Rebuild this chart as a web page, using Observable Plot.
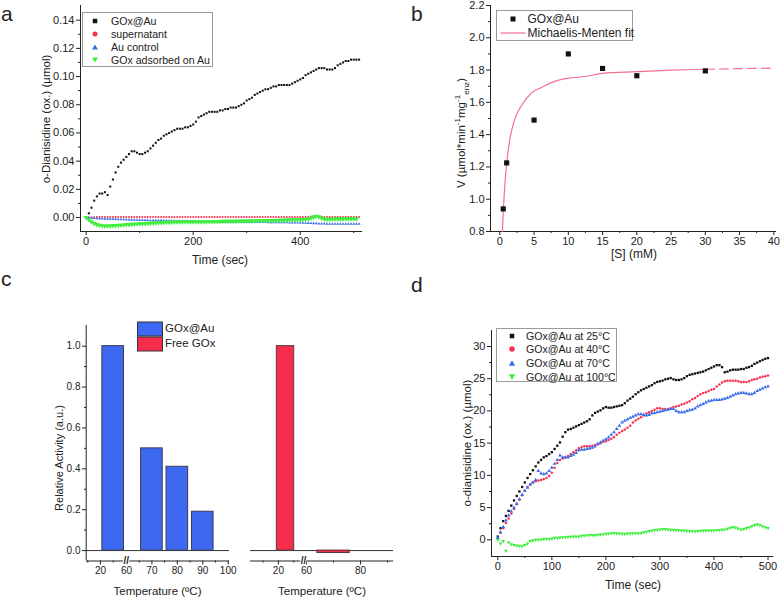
<!DOCTYPE html>
<html><head><meta charset="utf-8">
<script src="https://cdn.jsdelivr.net/npm/d3@7"></script>
<script src="https://cdn.jsdelivr.net/npm/@observablehq/plot@0.6"></script>
<style>
body{margin:0;background:#fff}
#fig{position:relative;width:780px;height:599px;overflow:hidden;background:#fff;font-family:"Liberation Sans",Arial,sans-serif;color:#222}
.abs{position:absolute}
.lbl{position:absolute;white-space:nowrap;line-height:1}
.letter{position:absolute;font-family:"Liberation Sans",Arial,sans-serif;font-size:21px;line-height:21px;color:#222}
.legend{position:absolute;border:1px solid #9a9a9a;background:#fff;box-sizing:border-box}
sup,sub{font-size:70%;line-height:0}
</style></head>
<body><div id="fig"></div>
<script>
// ================= DATA =================
// Panel a: o-Dianisidine (ox.) (µmol) vs time, one reading every 5 s
const timeA = d3.range(0, 511, 5);
const aGOxAu = [
 0.000,0.003,0.007,0.012,0.015,0.017,0.017,0.018,0.016,0.022,
 0.027,0.032,0.036,0.039,0.041,0.043,0.045,0.047,0.047,0.046,
 0.045,0.045,0.046,0.047,0.049,0.051,0.053,0.055,0.056,0.058,
 0.059,0.060,0.061,0.062,0.063,0.063,0.063,0.064,0.064,0.065,
 0.066,0.068,0.071,0.072,0.073,0.074,0.075,0.075,0.075,0.075,
 0.076,0.076,0.077,0.077,0.078,0.078,0.078,0.079,0.080,0.081,
 0.083,0.084,0.085,0.087,0.088,0.089,0.090,0.091,0.091,0.092,
 0.093,0.093,0.094,0.094,0.094,0.094,0.094,0.095,0.096,0.097,
 0.098,0.099,0.101,0.102,0.103,0.104,0.105,0.106,0.106,0.106,
 0.105,0.105,0.105,0.106,0.108,0.109,0.110,0.111,0.111,0.112,
 0.112,0.112,0.112];
const aSupernatant = [
 0.0000,0.0001,0.0002,0.0002,0.0003,0.0003,0.0003,0.0003,0.0003,0.0003,
 0.0003,0.0003,0.0003,0.0003,0.0003,0.0003,0.0004,0.0004,0.0004,0.0004,
 0.0004,0.0004,0.0004,0.0004,0.0004,0.0004,0.0004,0.0004,0.0004,0.0004,
 0.0004,0.0004,0.0004,0.0004,0.0004,0.0004,0.0004,0.0004,0.0004,0.0004,
 0.0004,0.0004,0.0004,0.0004,0.0004,0.0004,0.0004,0.0004,0.0004,0.0004,
 0.0004,0.0004,0.0004,0.0004,0.0004,0.0004,0.0004,0.0004,0.0004,0.0004,
 0.0004,0.0004,0.0004,0.0004,0.0004,0.0004,0.0004,0.0004,0.0004,0.0004,
 0.0004,0.0004,0.0004,0.0004,0.0004,0.0004,0.0004,0.0004,0.0004,0.0004,
 0.0004,0.0004,0.0004,0.0004,0.0004,0.0004,0.0004,0.0004,0.0004,0.0004,
 0.0004,0.0004,0.0004,0.0004,0.0004,0.0004,0.0004,0.0004,0.0004,0.0004,
 0.0004,0.0004,0.0004];
const aAuControl = [
 0.0000,-0.0002,-0.0004,-0.0005,-0.0006,-0.0007,-0.0008,-0.0009,-0.0010,-0.0010,
 -0.0011,-0.0012,-0.0013,-0.0013,-0.0014,-0.0015,-0.0015,-0.0016,-0.0016,-0.0017,
 -0.0018,-0.0018,-0.0019,-0.0019,-0.0020,-0.0020,-0.0021,-0.0021,-0.0021,-0.0022,
 -0.0022,-0.0023,-0.0023,-0.0024,-0.0024,-0.0025,-0.0025,-0.0025,-0.0026,-0.0026,
 -0.0026,-0.0027,-0.0027,-0.0027,-0.0028,-0.0028,-0.0028,-0.0029,-0.0029,-0.0029,
 -0.0029,-0.0030,-0.0030,-0.0030,-0.0030,-0.0031,-0.0031,-0.0031,-0.0031,-0.0032,
 -0.0032,-0.0032,-0.0032,-0.0033,-0.0033,-0.0033,-0.0033,-0.0033,-0.0034,-0.0034,
 -0.0034,-0.0034,-0.0035,-0.0035,-0.0035,-0.0035,-0.0036,-0.0036,-0.0036,-0.0037,
 -0.0037,-0.0038,-0.0038,-0.0039,-0.0040,-0.0041,-0.0042,-0.0043,-0.0044,-0.0044,
 -0.0045,-0.0045,-0.0045,-0.0045,-0.0045,-0.0045,-0.0045,-0.0045,-0.0045,-0.0045,
 -0.0045,-0.0045,-0.0045];
const aGOxAdsorbed = [
 0.0000,-0.0015,-0.0030,-0.0042,-0.0050,-0.0055,-0.0058,-0.0059,-0.0059,-0.0058,
 -0.0057,-0.0056,-0.0055,-0.0054,-0.0052,-0.0050,-0.0049,-0.0048,-0.0046,-0.0045,
 -0.0044,-0.0043,-0.0042,-0.0041,-0.0040,-0.0039,-0.0038,-0.0037,-0.0036,-0.0035,
 -0.0034,-0.0033,-0.0033,-0.0032,-0.0032,-0.0032,-0.0031,-0.0031,-0.0031,-0.0031,
 -0.0031,-0.0031,-0.0031,-0.0030,-0.0030,-0.0030,-0.0029,-0.0029,-0.0029,-0.0028,
 -0.0028,-0.0027,-0.0027,-0.0027,-0.0026,-0.0026,-0.0026,-0.0025,-0.0025,-0.0025,
 -0.0024,-0.0024,-0.0023,-0.0023,-0.0022,-0.0022,-0.0022,-0.0021,-0.0021,-0.0021,
 -0.0020,-0.0020,-0.0019,-0.0019,-0.0018,-0.0018,-0.0017,-0.0016,-0.0015,-0.0015,
 -0.0014,-0.0013,-0.0012,-0.0011,-0.0005,0.0005,0.0010,0.0006,-0.0004,-0.0010,
 -0.0012,-0.0012,-0.0011,-0.0011,-0.0010,-0.0010,-0.0010,-0.0009,-0.0009,-0.0009,
 -0.0009,-0.0009];
const aSeriesNames = ["GOx@Au", "supernatant", "Au control", "GOx adsorbed on Au"];
const aYTicks = [0, 0.02, 0.04, 0.06, 0.08, 0.10, 0.12, 0.14];
const aYMinor = [0.01, 0.03, 0.05, 0.07, 0.09, 0.11, 0.13];
const aXTicks = [0, 200, 400];
const aXMinor = [100, 300, 500];

// Panel b: initial rate vs substrate concentration
const bSubstrate = [0.5, 1, 5, 10, 15, 20, 30];
const bRate = [0.94, 1.225, 1.49, 1.90, 1.81, 1.765, 1.795];
const bFitS = [0.39, 0.5, 0.6, 0.75, 1, 1.25, 1.5, 2, 2.5, 3, 4, 5, 6, 8, 10, 12.5, 15, 20, 25, 30, 35, 40];
const bFitV = [0.80, 0.92, 1.00, 1.10, 1.22, 1.31, 1.38, 1.47, 1.53, 1.57, 1.63, 1.67, 1.69, 1.73, 1.75, 1.76, 1.78, 1.79, 1.80, 1.805, 1.809, 1.812];
const bSeriesNames = ["GOx@Au", "Michaelis-Menten fit"];
const bXTicks = [0, 5, 10, 15, 20, 25, 30, 35, 40];
const bXMinor = [2.5, 7.5, 12.5, 17.5, 22.5, 27.5, 32.5, 37.5];
const bYTicks = [0.8, 1.0, 1.2, 1.4, 1.6, 1.8, 2.0, 2.2];
const bYMinor = [0.9, 1.1, 1.3, 1.5, 1.7, 1.9, 2.1];

// Panel c: relative activity after heating
const cTempAu = [25, 70, 80, 90];
const cActAu = [1.0, 0.50, 0.41, 0.19];
const cTempFree = [25, 70];
const cActFree = [1.0, -0.012];
const cSeriesNames = ["GOx@Au", "Free GOx"];
const cYTicks = [0, 0.2, 0.4, 0.6, 0.8, 1.0];
const cYMinor = [0.1, 0.3, 0.5, 0.7, 0.9];
const cLeftTicks = [20, 60, 70, 80, 90, 100];
const cLeftMinor = [15, 25, 65, 75, 85, 95];
const cRightTicks = [20, 60, 80];
const cRightMinor = [10, 30, 70, 90];

// Panel d: o-dianisidine (ox.) (µmol) vs time, one reading every 5 s
const timeD = d3.range(0, 501, 5);
const d25 = [
 0.5,1.8,2.9,3.7,4.5,5.3,6.1,6.8,7.5,8.2,
 8.9,9.6,10.2,10.8,11.4,12.0,12.4,12.8,13.0,13.3,
 13.6,14.1,14.6,15.1,16.0,16.7,17.1,17.2,17.4,17.6,
 17.8,18.0,18.2,18.4,18.7,19.3,19.7,19.9,20.1,20.4,
 20.6,20.5,20.5,20.6,20.7,20.8,20.9,21.2,21.6,21.9,
 22.2,22.6,22.9,23.2,23.4,23.6,23.8,24.0,24.3,24.5,
 24.6,24.7,24.9,25.0,25.1,24.9,24.8,24.8,24.9,25.1,
 25.4,25.6,25.7,25.8,25.9,26.0,26.1,26.3,26.5,26.7,
 26.9,27.1,27.1,26.8,26.0,26.1,26.3,26.4,26.4,26.4,
 26.5,26.5,26.7,26.8,27.0,27.3,27.5,27.7,27.9,28.1,
 28.2];
const d40 = [
 0.2,1.1,1.8,2.6,3.3,4.1,4.8,5.5,6.2,6.9,
 7.6,8.2,8.6,8.9,9.1,9.2,9.3,9.4,9.6,9.9,
 10.4,11.2,11.9,12.4,12.6,12.8,13.0,13.3,13.6,13.9,
 14.2,14.4,14.5,14.5,14.5,14.6,14.7,14.8,15.0,15.2,
 15.3,15.5,15.7,15.9,16.3,16.6,16.9,17.1,17.4,17.7,
 18.2,18.5,18.8,19.0,19.3,19.6,19.8,20.0,20.2,20.4,
 20.4,20.3,20.3,20.3,20.4,20.6,20.7,20.8,21.0,21.1,
 21.3,21.5,21.8,22.0,22.3,22.6,22.8,22.9,23.1,23.3,
 23.4,23.8,24.1,24.4,24.6,24.7,24.7,24.7,24.7,24.6,
 24.5,24.5,24.5,24.6,24.8,24.9,25.0,25.2,25.3,25.4,
 25.5];
const d70 = [
 0.3,1.2,2.0,3.0,3.8,4.4,5.0,5.6,6.3,7.0,
 7.6,8.1,8.6,8.9,9.3,10.7,10.3,10.2,10.3,10.7,
 11.2,11.8,12.4,13.1,12.8,12.8,12.8,13.0,13.2,13.5,
 13.9,14.0,14.0,14.1,14.2,14.3,14.5,14.9,15.1,15.4,
 15.6,15.9,16.3,16.7,17.2,17.7,18.2,18.5,18.7,18.9,
 19.1,19.3,19.5,19.5,19.4,19.3,19.4,19.6,19.7,19.8,
 19.9,20.0,20.1,20.2,20.3,20.3,20.0,19.8,19.8,19.8,
 20.0,20.1,20.2,20.4,20.7,20.9,21.1,21.3,21.5,21.6,
 21.7,21.7,21.7,21.8,21.9,22.0,22.2,22.4,22.6,22.7,
 22.8,22.8,22.7,22.6,22.6,22.8,23.1,23.3,23.5,23.7,
 23.8];
const d100 = [
 0.0,-0.6,-0.2,-1.7,-0.4,-0.7,-0.8,-0.9,-0.95,-1.0,
 -0.8,-0.6,-0.2,-0.1,0.0,0.0,0.05,0.1,0.15,0.1,
 0.2,0.3,0.3,0.35,0.4,0.4,0.45,0.45,0.5,0.5,
 0.5,0.6,0.65,0.7,0.72,0.75,0.75,0.77,0.8,0.85,
 0.93,0.95,1.0,1.03,1.0,0.97,0.93,0.93,0.95,0.97,
 1.0,1.0,1.02,1.05,1.15,1.25,1.35,1.45,1.5,1.55,
 1.6,1.65,1.65,1.6,1.55,1.55,1.5,1.5,1.45,1.45,
 1.4,1.35,1.3,1.3,1.35,1.4,1.45,1.45,1.45,1.45,
 1.45,1.5,1.5,1.55,1.6,1.7,1.85,1.97,1.9,1.75,
 1.6,1.65,1.8,1.95,2.1,2.3,2.4,2.3,2.1,1.95,
 1.8];
const dSeriesNames = ["GOx@Au at 25°C", "GOx@Au at 40°C", "GOx@Au at 70°C", "GOx@Au at 100°C"];
const dXTicks = [0, 100, 200, 300, 400, 500];
const dXMinor = [50, 150, 250, 350, 450];
const dYTicks = [0, 5, 10, 15, 20, 25, 30];
const dYMinor = [2.5, 7.5, 12.5, 17.5, 22.5, 27.5];

// ================= STYLE =================
const FONT = '"Liberation Sans", Arial, sans-serif';
const INK = "#222";
const BLACK = "#111";
const RED = "#f7304f";
const BLUE = "#3b6ee8";
const GREEN = "#3cf03c";
const BAR_BLUE = "#3d68f2";
const BAR_RED = "#f72d4d";
const FIT = "#f4708e";

// ================= HELPERS =================
const fig = document.getElementById("fig");
const svgNS = "http://www.w3.org/2000/svg";
function place(node, left, top, w, h) {
  const d = document.createElement("div");
  d.className = "abs";
  d.style.left = left + "px"; d.style.top = top + "px";
  d.style.width = w + "px"; d.style.height = h + "px";
  node.style.display = "block";
  node.style.maxWidth = "none";
  node.style.width = w + "px"; node.style.height = h + "px";
  d.appendChild(node); fig.appendChild(d);
}
function label(html, cx, cy, size, rotate) {
  const d = document.createElement("div");
  d.className = "lbl";
  d.innerHTML = html;
  d.style.left = cx + "px"; d.style.top = cy + "px";
  d.style.fontSize = size + "px";
  d.style.transform = "translate(-50%,-50%)" + (rotate ? " rotate(-90deg)" : "");
  fig.appendChild(d);
}
function letter(ch, left, baseline) {
  const d = document.createElement("div");
  d.className = "letter"; d.textContent = ch;
  d.style.left = left + "px"; d.style.top = (baseline - 17.75) + "px";
  fig.appendChild(d);
}
function sym(kind, color, s) {
  switch (kind) {
    case "square": return `<rect x="${-s/2}" y="${-s/2}" width="${s}" height="${s}" fill="${color}"/>`;
    case "circle": return `<circle r="${s/2}" fill="${color}"/>`;
    case "up": return `<polygon points="${-s/2},${s*0.43} ${s/2},${s*0.43} 0,${-s*0.43}" fill="${color}"/>`;
    case "down": return `<polygon points="${-s/2},${-s*0.43} ${s/2},${-s*0.43} 0,${s*0.43}" fill="${color}"/>`;
    case "line": return `<line x1="${-s/2}" x2="${s/2}" y1="0" y2="0" stroke="${color}" stroke-width="1.2"/>`;
    case "swatch": return `<rect x="-12.5" y="-7" width="25" height="14" fill="${color}" stroke="#333" stroke-width="1"/>`;
  }
}
function legend(box, rows, fs, symX, textX) {
  const el = document.createElement("div");
  if (box.border !== false) el.className = "legend";
  el.style.position = "absolute";
  el.style.left = box.left + "px"; el.style.top = box.top + "px";
  el.style.width = box.width + "px"; el.style.height = box.height + "px";
  rows.forEach(r => {
    const s = document.createElementNS(svgNS, "svg");
    s.setAttribute("width", 2); s.setAttribute("height", 2);
    s.style.position = "absolute"; s.style.overflow = "visible";
    s.style.left = symX + "px"; s.style.top = r.y + "px";
    s.innerHTML = sym(r.kind, r.color, r.size);
    el.appendChild(s);
    const t = document.createElement("div");
    t.textContent = r.text;
    t.style.position = "absolute"; t.style.whiteSpace = "nowrap"; t.style.lineHeight = "1";
    t.style.transform = "translateY(-50%)";
    t.style.left = textX + "px"; t.style.top = r.y + "px"; t.style.fontSize = fs + "px";
    el.appendChild(t);
  });
  fig.appendChild(el);
}
function axisMarks(o) {
  const m = [];
  const common = {stroke: INK, label: null};
  if (o.xMajor) m.push(Plot.axisX(o.xMajor, {...common, tickSize: 4, tickPadding: 2, tickFormat: o.xFmt, fontSize: o.fs}));
  if (o.xMinor) m.push(Plot.axisX(o.xMinor, {...common, tickSize: 2, tickFormat: () => ""}));
  if (o.yMajor) m.push(Plot.axisY(o.yMajor, {...common, tickSize: 4, tickPadding: 2, tickFormat: o.yFmt, fontSize: o.fs}));
  if (o.yMinor) m.push(Plot.axisY(o.yMinor, {...common, tickSize: 2, tickFormat: () => ""}));
  return m;
}
function plot(o) {
  return Plot.plot({
    width: o.width, height: o.height,
    marginLeft: o.ml, marginRight: o.mr, marginTop: o.mt, marginBottom: o.mb,
    x: o.x, y: o.y,
    style: {fontFamily: FONT, fontSize: (o.fs || 11) + "px", color: INK, background: "none", overflow: "visible"},
    marks: o.marks
  });
}
const series = (times, values) => values.map((v, i) => ({t: times[i], v}));

// ================= PANEL a =================
const aX = [-10.6, 516.4], aY = [-0.0099, 0.1504];
const aPlot = plot({
  width: 380, height: 270, ml: 80, mr: 18, mt: 5, mb: 39, fs: 11,
  x: {domain: aX}, y: {domain: aY},
  marks: [
    ...axisMarks({xMajor: aXTicks, xMinor: aXMinor, yMajor: aYTicks, yMinor: aYMinor,
      xFmt: d3.format("d"), yFmt: d3.format(".2f"), fs: 11}),
    Plot.ruleX([aX[0]], {stroke: INK}),
    Plot.ruleY([aY[0]], {stroke: INK}),
    Plot.dot(series(timeA, aGOxAu), {x: "t", y: "v", symbol: "square", r: 1.15, fill: BLACK}),
    Plot.dot(series(timeA, aSupernatant), {x: "t", y: "v", symbol: "circle", r: 1.0, fill: RED}),
    Plot.dot(series(timeA, aAuControl), {x: "t", y: "v", symbol: "triangle", r: 1.1, fill: BLUE}),
    Plot.dot(series(timeA, aGOxAdsorbed), {x: "t", y: "v", symbol: "triangle", r: 1.9, fill: GREEN, rotate: 180})
  ]
});
place(aPlot, 0, 0, 380, 270);
label("Time (sec)", 220, 260, 12);
label("o-Dianisidine (ox.) (µmol)", 46.5, 119, 11.5, true);
legend({left: 82, top: 12, width: 131, height: 55}, [
  {kind: "square", color: BLACK, size: 4.5, text: aSeriesNames[0], y: 7.5},
  {kind: "circle", color: RED, size: 5, text: aSeriesNames[1], y: 20.8},
  {kind: "up", color: BLUE, size: 6, text: aSeriesNames[2], y: 33.6},
  {kind: "down", color: GREEN, size: 6, text: aSeriesNames[3], y: 46.8}
], 10.6, 12, 28);
letter("a", 1, 20.5);

// ================= PANEL b =================
const bX = [-1.36, 40.39], bY = [0.8, 2.2];
const fitAll = bFitS.map((s, i) => ({s, v: bFitV[i]}));
const bPlot = plot({
  width: 390, height: 270, ml: 100, mr: 4, mt: 5, mb: 39, fs: 11,
  x: {domain: bX}, y: {domain: bY},
  marks: [
    ...axisMarks({xMajor: bXTicks, xMinor: bXMinor, yMajor: bYTicks, yMinor: bYMinor,
      xFmt: d3.format("d"), yFmt: d3.format(".1f"), fs: 11}),
    Plot.ruleX([bX[0]], {stroke: INK}),
    Plot.ruleY([bY[0]], {stroke: INK}),
    Plot.line(fitAll.filter(d => d.s <= 30), {x: "s", y: "v", stroke: FIT, strokeWidth: 1.2, curve: "monotone-x"}),
    Plot.line(fitAll.filter(d => d.s >= 30), {x: "s", y: "v", stroke: FIT, strokeWidth: 1.2, strokeDasharray: "9,5", curve: "monotone-x"}),
    Plot.dot(bSubstrate.map((s, i) => ({s, v: bRate[i]})), {x: "s", y: "v", symbol: "square", r: 2.9, fill: BLACK})
  ]
});
place(bPlot, 390, 0, 390, 270);
label("[S] (mM)", 634, 254, 12);
label("V (µmol*min<sup>-1</sup>mg<sup>-1</sup><sub>enz</sub>)", 461.5, 133, 11.5, true);
legend({left: 496, top: 10, width: 137, height: 31}, [
  {kind: "square", color: BLACK, size: 5, text: bSeriesNames[0], y: 7.5},
  {kind: "line", color: FIT, size: 25, text: bSeriesNames[1], y: 22}
], 12, 15.5, 30.5);
letter("b", 411, 20.5);

// ================= PANEL c =================
const cY = [-0.051, 1.101];
const cLeft = plot({
  width: 240, height: 299, ml: 86, mr: 11, mt: 25, mb: 38.5, fs: 10,
  x: {type: "linear", domain: [14.4, 30, 60, 100.4], range: [85.7, 125.4, 126, 228.7]},
  y: {domain: cY},
  marks: [
    ...axisMarks({xMajor: cLeftTicks, xMinor: cLeftMinor, yMajor: cYTicks, yMinor: cYMinor,
      xFmt: d3.format("d"), yFmt: d3.format(".1f"), fs: 10}),
    Plot.ruleX([14.4], {stroke: INK}),
    Plot.ruleY([cY[0]], {stroke: INK}),
    Plot.ruleY([0], {stroke: "#333"}),
    Plot.rect(cTempAu.map((t, i) => ({t, v: cActAu[i]})),
      {x1: d => d.t - 4.25, x2: d => d.t + 4.25, y1: 0, y2: "v", fill: BAR_BLUE, stroke: "#3a3a55", strokeWidth: 1}),
    Plot.text([45], {x: d => d, y: cY[0], text: () => "//", fontSize: 10, fontWeight: "bold", fill: INK, stroke: "white", strokeWidth: 2, paintOrder: "stroke"})
  ]
});
place(cLeft, 0, 300, 240, 299);
const cRight = plot({
  width: 160, height: 299, ml: 10, mr: 7, mt: 25, mb: 38.5, fs: 10,
  x: {type: "linear", domain: [1.9, 30, 60, 92.2], range: [10, 53.3, 66, 153]},
  y: {domain: cY, axis: null},
  marks: [
    ...axisMarks({xMajor: cRightTicks, xMinor: cRightMinor, xFmt: d3.format("d"), fs: 10}),
    Plot.ruleY([cY[0]], {stroke: INK}),
    Plot.ruleY([0], {stroke: "#333"}),
    Plot.rect(cTempFree.map((t, i) => ({t, v: cActFree[i]})),
      {x1: d => d.t - 6, x2: d => d.t + 6, y1: 0, y2: "v", fill: BAR_RED, stroke: "#553a3a", strokeWidth: 1}),
    Plot.text([53], {x: d => d, y: cY[0], text: () => "//", fontSize: 10, fontWeight: "bold", fill: INK, stroke: "white", strokeWidth: 2, paintOrder: "stroke"})
  ]
});
place(cRight, 240, 300, 160, 299);
label("Temperature (ºC)", 157.5, 591.5, 11.5);
label("Temperature (ºC)", 322, 591.5, 11.5);
label("Relative Activity (a.u.)", 58.5, 458, 11, true);
legend({left: 125, top: 315, width: 100, height: 40, border: false}, [
  {kind: "swatch", color: BAR_BLUE, size: 25, text: cSeriesNames[0], y: 14},
  {kind: "swatch", color: BAR_RED, size: 25, text: cSeriesNames[1], y: 28.7}
], 11.5, 25.2, 40);
letter("c", 1, 286);

// ================= PANEL d =================
const dX = [-11.65, 510.7], dY = [-2.59, 32.48];
const dPlot = plot({
  width: 390, height: 299, ml: 101, mr: 6.7, mt: 30, mb: 43, fs: 11,
  x: {domain: dX}, y: {domain: dY},
  marks: [
    ...axisMarks({xMajor: dXTicks, xMinor: dXMinor, yMajor: dYTicks, yMinor: dYMinor,
      xFmt: d3.format("d"), yFmt: d3.format("d"), fs: 11}),
    Plot.ruleX([dX[0]], {stroke: INK}),
    Plot.ruleY([dY[0]], {stroke: INK}),
    Plot.dot(series(timeD, d25), {x: "t", y: "v", symbol: "square", r: 1.3, fill: BLACK}),
    Plot.dot(series(timeD, d40), {x: "t", y: "v", symbol: "circle", r: 1.25, fill: RED}),
    Plot.dot(series(timeD, d70), {x: "t", y: "v", symbol: "triangle", r: 1.4, fill: BLUE}),
    Plot.dot(series(timeD, d100), {x: "t", y: "v", symbol: "triangle", r: 1.4, fill: GREEN, rotate: 180})
  ]
});
place(dPlot, 390, 300, 390, 299);
label("Time (sec)", 633, 585, 12);
label("o-dianisidine (ox.) (µmol)", 467.5, 442.5, 11.5, true);
legend({left: 496, top: 328, width: 121, height: 54}, [
  {kind: "square", color: BLACK, size: 4.5, text: dSeriesNames[0], y: 6.6},
  {kind: "circle", color: RED, size: 5.5, text: dSeriesNames[1], y: 20.4},
  {kind: "up", color: BLUE, size: 6.5, text: dSeriesNames[2], y: 34},
  {kind: "down", color: GREEN, size: 6.5, text: dSeriesNames[3], y: 47.6}
], 10.6, 14.7, 29);
letter("d", 411, 292);
</script></body></html>
